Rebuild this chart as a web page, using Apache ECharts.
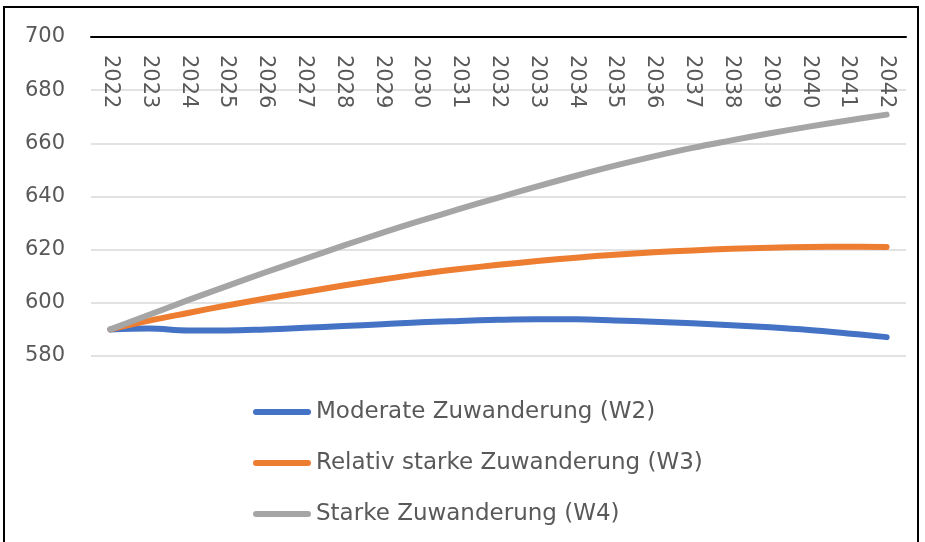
<!DOCTYPE html>
<html>
<head>
<meta charset="utf-8">
<script src="https://cdn.jsdelivr.net/npm/echarts@6/dist/echarts.min.js"></script>
<style>
  html, body { margin: 0; padding: 0; background: #fff; overflow: hidden; }
  #chart { width: 925px; height: 542px; }
  #frame { position: absolute; left: 3px; top: 6px; width: 912px; height: 600px;
           border: 2px solid #000; pointer-events: none; }
</style>
</head>
<body>
<div id="chart"></div>
<div id="frame"></div>
<script>
// Jahre
var years = ['2022','2023','2024','2025','2026','2027','2028','2029','2030','2031','2032',
             '2033','2034','2035','2036','2037','2038','2039','2040','2041','2042'];

// Moderate Zuwanderung (W2)
var w2 = [590, 590.3, 589.6, 589.6, 590, 590.6, 591.3, 591.9, 592.7, 593.2, 593.6,
          593.8, 593.8, 593.4, 592.9, 592.3, 591.6, 590.8, 589.8, 588.5, 587.1];
// Relativ starke Zuwanderung (W3)
var w3 = [590, 593.3, 596.2, 599, 601.6, 604.1, 606.5, 608.8, 610.9, 612.7, 614.3,
          615.7, 617, 618.1, 619, 619.7, 620.3, 620.7, 621, 621.1, 621];
// Starke Zuwanderung (W4)
var w4 = [590, 595.5, 601, 606.3, 611.5, 616.5, 621.5, 626.3, 630.9, 635.3, 639.6,
          643.8, 647.8, 651.6, 655.1, 658.3, 661.1, 663.8, 666.3, 668.6, 670.8];

var names = ['Moderate Zuwanderung (W2)', 'Relativ starke Zuwanderung (W3)', 'Starke Zuwanderung (W4)'];
var colors = ['#4472c4', '#ed7d31', '#a5a5a5'];

var chart = echarts.init(document.getElementById('chart'));
var pill = 'path://M3,0 L55,0 A3,3 0 0 1 55,6 L3,6 A3,3 0 0 1 3,0 Z';

function line(name, data, color) {
    return {
        name: name,
        type: 'line',
        data: data,
        smooth: 0.4,
        symbol: 'none',
        lineStyle: { width: 6, color: color, cap: 'round', join: 'round' },
        itemStyle: { color: color }
    };
}

var option = {
    animation: false,
    textStyle: { fontFamily: 'DejaVu Sans' },
    grid: { left: 91, right: 19, top: 37, bottom: 186 },
    legend: {
        orient: 'vertical',
        left: 248,
        top: 394,
        itemWidth: 58,
        itemHeight: 6,
        itemGap: 25,
        icon: pill,
        data: names,
        textStyle: { fontSize: 23, color: '#595959', lineHeight: 26, fontFamily: 'DejaVu Sans' }
    },
    xAxis: {
        type: 'category',
        position: 'top',
        data: years,
        boundaryGap: true,
        axisLine: { lineStyle: { color: '#000', width: 2 } },
        axisTick: { show: false },
        axisLabel: { inside: true, rotate: 90, margin: 18, fontSize: 21, color: '#595959', interval: 0 }
    },
    yAxis: {
        type: 'value',
        min: 580,
        max: 700,
        interval: 20,
        axisLine: { show: false },
        axisTick: { show: false },
        axisLabel: { margin: 26, fontSize: 21, color: '#595959' },
        splitLine: { lineStyle: { color: '#d9d9d9', width: 1.5 } }
    },
    series: [
        line(names[0], w2, colors[0]),
        line(names[1], w3, colors[1]),
        line(names[2], w4, colors[2])
    ]
};

chart.setOption(option);
</script>
</body>
</html>
